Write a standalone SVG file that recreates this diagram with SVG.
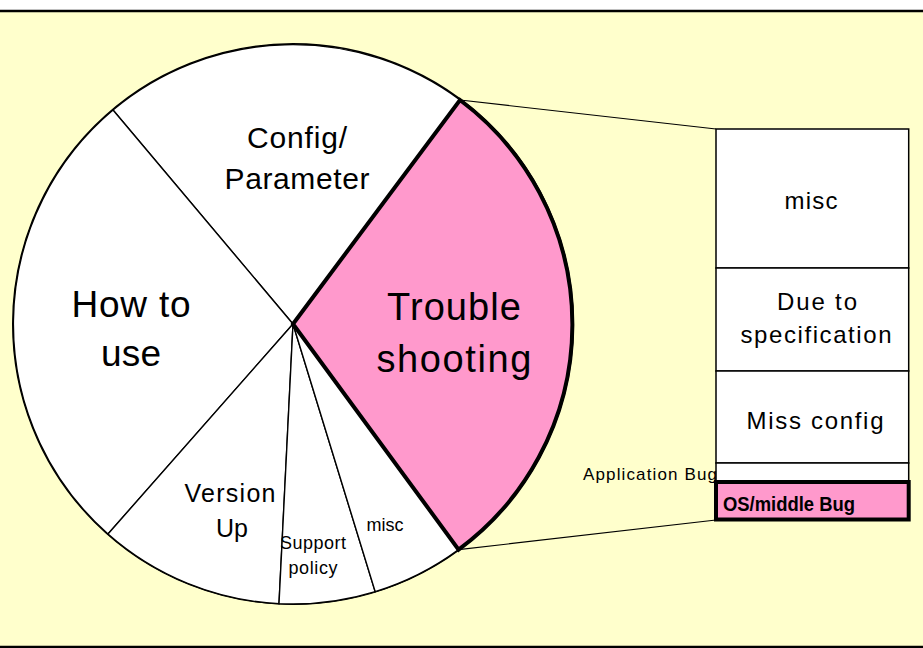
<svg xmlns="http://www.w3.org/2000/svg" width="923" height="648" viewBox="0 0 923 648">
  <style>
    .lbl { font-family: "Liberation Sans", Arial, sans-serif; fill: #000; text-anchor: middle; }
    .slice { fill: #fff; stroke: #000; stroke-width: 1.4; }
    .hot { fill: #ff99cc; stroke: #000; stroke-width: 4; stroke-linejoin: miter; }
    .cell { fill: #fff; stroke: #000; stroke-width: 1.5; }
    .conn { stroke: #000; stroke-width: 1.1; fill: none; }
  </style>

  <!-- page background and rules -->
  <rect x="0" y="0" width="923" height="648" fill="#fff"/>
  <rect x="0" y="11" width="923" height="636" fill="#ffffcc"/>
  <line x1="0" y1="11" x2="923" y2="11" stroke="#000" stroke-width="2.4"/>
  <line x1="0" y1="647" x2="923" y2="647" stroke="#000" stroke-width="2.4"/>

  <!-- pie chart: centre (293,324), radius 280 -->
  <g id="pie">
    <circle cx="293" cy="324" r="280" fill="#fff" stroke="#000" stroke-width="2"/>
    <g id="slice-config">
      <path class="slice" d="M293 324 L113 110 A280 280 0 0 1 460 100 Z"/>
      <text class="lbl" x="297" y="148" font-size="30" textLength="100">Config/</text>
      <text class="lbl" x="297" y="189" font-size="30" textLength="145">Parameter</text>
    </g>
    <g id="slice-howto">
      <path class="slice" d="M293 324 L108 534 A280 280 0 0 1 113 110 Z"/>
      <text class="lbl" x="131" y="317" font-size="37" textLength="119">How to</text>
      <text class="lbl" x="131" y="366" font-size="37" textLength="60">use</text>
    </g>
    <g id="slice-version">
      <path class="slice" d="M293 324 L279 603.7 A280 280 0 0 1 108 534 Z"/>
      <text class="lbl" x="230" y="502" font-size="25" textLength="91">Version</text>
      <text class="lbl" x="232" y="537" font-size="25">Up</text>
    </g>
    <g id="slice-support">
      <path class="slice" d="M293 324 L375.2 591.7 A280 280 0 0 1 279 603.7 Z"/>
      <text class="lbl" x="313" y="549" font-size="18" textLength="66">Support</text>
      <text class="lbl" x="313" y="574" font-size="18" textLength="49">policy</text>
    </g>
    <g id="slice-misc">
      <path class="slice" d="M293 324 L458.6 549.6 A280 280 0 0 1 375.2 591.7 Z"/>
      <text class="lbl" x="385" y="531" font-size="18" textLength="37">misc</text>
    </g>
    <g id="slice-trouble">
      <path class="hot" d="M293 324 L460 100 A280 280 0 0 1 458.6 549.6 Z"/>
      <text class="lbl" x="454" y="320" font-size="38" textLength="134">Trouble</text>
      <text class="lbl" x="454" y="372" font-size="38" textLength="155">shooting</text>
    </g>
  </g>

  <!-- breakdown bar -->
  <g id="breakdown">
    <g id="bar-misc">
      <rect class="cell" x="716" y="129" width="192.7" height="139"/>
      <text class="lbl" x="811" y="209" font-size="24" textLength="53">misc</text>
    </g>
    <g id="bar-spec">
      <rect class="cell" x="716" y="268" width="192.7" height="103"/>
      <text class="lbl" x="817" y="310" font-size="24" textLength="80">Due to</text>
      <text class="lbl" x="816" y="343" font-size="24" textLength="151">specification</text>
    </g>
    <g id="bar-missconfig">
      <rect class="cell" x="716" y="371" width="192.7" height="92"/>
      <text class="lbl" x="815" y="429" font-size="24" textLength="137">Miss config</text>
    </g>
    <g id="bar-appbug">
      <rect class="cell" x="716" y="463" width="192.7" height="19"/>
      <text class="lbl" x="650" y="480" font-size="17" textLength="134">Application Bug</text>
    </g>
    <g id="bar-osbug">
      <rect class="hot" x="716" y="482" width="192.7" height="37.5"/>
      <text class="lbl" x="789" y="511" font-size="20" font-weight="bold" textLength="132" lengthAdjust="spacingAndGlyphs">OS/middle Bug</text>
    </g>
  </g>

  <!-- zoom connectors from the highlighted slice to the bar -->
  <g id="connectors">
    <line class="conn" x1="460" y1="100" x2="716" y2="129"/>
    <line class="conn" x1="458.6" y1="549.6" x2="716" y2="520"/>
  </g>
</svg>
